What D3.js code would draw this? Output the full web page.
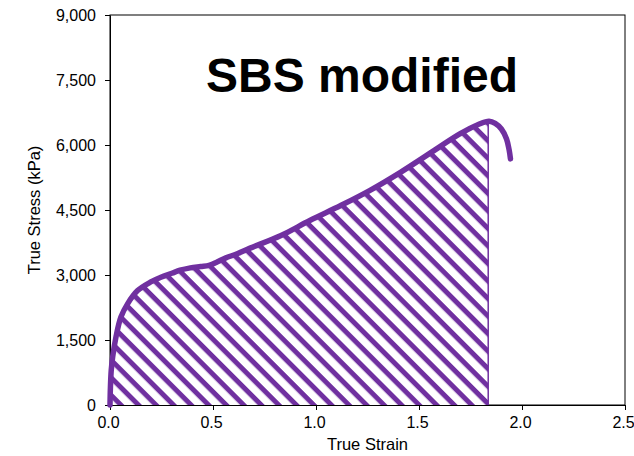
<!DOCTYPE html>
<html>
<head>
<meta charset="utf-8">
<script src="https://cdn.jsdelivr.net/npm/d3@7"></script>
<style>
  body { margin: 0; background: #fff; }
  text { font-family: "Liberation Sans", Arial, sans-serif; }
</style>
</head>
<body>
<div id="chart"></div>
<script>
// values
var strain = [0, 0.002, 0.006, 0.013, 0.029, 0.053, 0.086, 0.134, 0.198, 0.247, 0.3, 0.34, 0.39, 0.44, 0.48, 0.52, 0.56, 0.62, 0.68, 0.83, 0.97, 1.12, 1.26, 1.41, 1.55, 1.7, 1.79, 1.84, 1.87, 1.9, 1.925, 1.937, 1.944];
var stress = [0, 400, 800, 1110, 1570, 2030, 2340, 2640, 2840, 2950, 3040, 3110, 3165, 3195, 3220, 3300, 3390, 3495, 3620, 3912, 4258, 4603, 4948, 5370, 5800, 6260, 6480, 6550, 6500, 6370, 6140, 5900, 5680];
var hatchEnd = 1.836;
var xTicks = [0, 0.5, 1.0, 1.5, 2.0, 2.5];
var yTicks = [0, 1500, 3000, 4500, 6000, 7500, 9000];
var chartTitle = "SBS modified";
var xTitle = "True Strain";
var yTitle = "True Stress (kPa)";

var W = 634, H = 456;
var margin = {left: 110, right: 9, top: 15, bottom: 51};
var purple = "#7030A0";

var pts = strain.map(function(s, i) { return {x: s, y: stress[i]}; });

var x = d3.scaleLinear().domain([0, 2.5]).range([margin.left, W - margin.right]);
var y = d3.scaleLinear().domain([0, 9000]).range([H - margin.bottom, margin.top]);

var svg = d3.select("#chart").append("svg")
  .attr("width", W)
  .attr("height", H);

var defs = svg.append("defs");

var pat = defs.append("pattern")
  .attr("id", "hatch")
  .attr("patternUnits", "userSpaceOnUse")
  .attr("width", 12.4)
  .attr("height", 12.4)
  .attr("patternTransform", "rotate(45)");
pat.append("rect").attr("width", 12.4).attr("height", 12.4).attr("fill", "#fff");
pat.append("rect").attr("y", 0).attr("width", 12.4).attr("height", 5).attr("fill", purple);

defs.append("clipPath").attr("id", "hatchClip")
  .append("rect")
  .attr("x", x(0))
  .attr("y", 0)
  .attr("width", x(hatchEnd) - x(0))
  .attr("height", H);

var curve = d3.curveCatmullRom.alpha(0.5);

var area = d3.area()
  .x(function(d) { return x(d.x); })
  .y0(y(0))
  .y1(function(d) { return y(d.y); })
  .curve(curve);

defs.append("clipPath").attr("id", "underCurve")
  .append("path")
  .attr("d", area(pts));

// plot box
svg.append("rect")
  .attr("x", x(0))
  .attr("y", y(9000))
  .attr("width", x(2.5) - x(0))
  .attr("height", y(0) - y(9000))
  .attr("fill", "none")
  .attr("stroke", "#000")
  .attr("stroke-width", 1);

// hatched area
svg.append("path")
  .attr("d", area(pts))
  .attr("fill", "url(#hatch)")
  .attr("clip-path", "url(#hatchClip)");

svg.append("line")
  .attr("x1", x(hatchEnd)).attr("x2", x(hatchEnd))
  .attr("y1", y(0)).attr("y2", y(9000))
  .attr("stroke", purple)
  .attr("stroke-width", 1.5)
  .attr("clip-path", "url(#underCurve)");

// axes
var xAxis = svg.append("g")
  .attr("transform", "translate(0," + y(0) + ")")
  .call(d3.axisBottom(x).tickValues(xTicks).tickFormat(d3.format(".1f")).tickSizeInner(5).tickSizeOuter(0).tickPadding(7));

var yAxis = svg.append("g")
  .attr("transform", "translate(" + x(0) + ",0)")
  .call(d3.axisLeft(y).tickValues(yTicks).tickFormat(d3.format(",")).tickSizeInner(5).tickSizeOuter(0).tickPadding(9));

[xAxis, yAxis].forEach(function(g) {
  g.select(".domain").attr("stroke", "#000");
  g.selectAll(".tick line").attr("stroke", "#000");
  g.selectAll(".tick text")
    .attr("fill", "#000")
    .style("font-size", "16px")
    .style("font-family", "'Liberation Sans', Arial, sans-serif");
});
xAxis.selectAll(".tick text").attr("dx", -2);

// the curve
var line = d3.line()
  .x(function(d) { return x(d.x); })
  .y(function(d) { return y(d.y); })
  .curve(curve);

svg.append("path")
  .attr("d", line(pts))
  .attr("fill", "none")
  .attr("stroke", purple)
  .attr("stroke-width", 5.5)
  .attr("stroke-linecap", "round")
  .attr("stroke-linejoin", "round");

// titles
svg.append("text")
  .attr("x", 362)
  .attr("y", 92)
  .attr("text-anchor", "middle")
  .style("font-size", "48px")
  .style("font-weight", "bold")
  .text(chartTitle);

svg.append("text")
  .attr("x", (x(0) + x(2.5)) / 2)
  .attr("y", 450)
  .attr("text-anchor", "middle")
  .style("font-size", "16.5px")
  .text(xTitle);

svg.append("text")
  .attr("transform", "translate(40," + (y(0) + y(9000)) / 2 + ") rotate(-90)")
  .attr("text-anchor", "middle")
  .style("font-size", "16.5px")
  .text(yTitle);
</script>
</body>
</html>
